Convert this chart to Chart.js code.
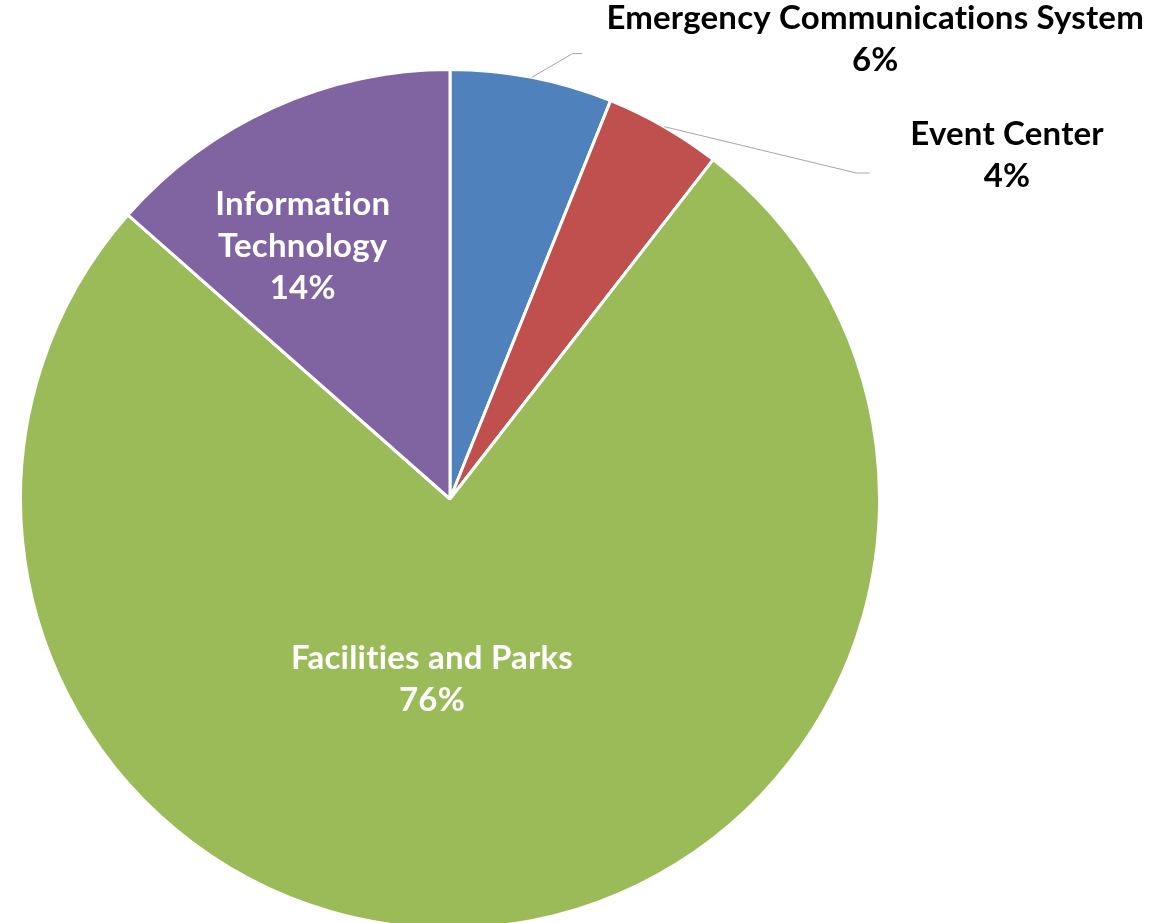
<!DOCTYPE html>
<html>
<head>
<meta charset="utf-8">
<script src="https://cdn.jsdelivr.net/npm/chart.js@4.4.1/dist/chart.umd.min.js"></script>
<style>
  html, body { margin: 0; padding: 0; background: #fff; overflow: hidden; }
  #wrap { width: 1153px; height: 923px; overflow: hidden; }
</style>
</head>
<body>
<div id="wrap"><canvas id="pieChart" width="1153" height="934"></canvas></div>
<script>
// Budget share by department
const categories = ['Emergency Communications System', 'Event Center', 'Facilities and Parks', 'Information Technology'];
const shareValues = [6.1, 4.4, 76.0, 13.5];
const shareLabels = ['6%', '4%', '76%', '14%'];
const sliceColors = ['#4F81BD', '#C0504D', '#9BBB59', '#8064A2'];

// label placement, relative to pie centre, in units of radius
const labelSpots = [
    { x: 0.99, y: -1.07, outside: true, color: '#000', elbow: [0.285, -1.037], end: [0.308, -1.037] },
    { x: 1.297, y: -0.80, outside: true, color: '#000', elbow: [0.946, -0.759], end: [0.977, -0.759] },
    { x: -0.042, y: 0.42, outside: false, color: '#fff' },
    { x: -0.343, y: -0.589, outside: false, color: '#fff' }
];

const FONT = 'bold 33px Lato, "Noto Sans", sans-serif';
const LINE_H = 42;

const sliceLabels = {
    id: 'sliceLabels',
    afterDatasetsDraw(chart) {
        const ctx = chart.ctx;
        const arcs = chart.getDatasetMeta(0).data;
        ctx.save();
        arcs.forEach((arc, i) => {
            const spot = labelSpots[i];
            const cx = arc.x, cy = arc.y, r = arc.outerRadius;
            const tx = cx + spot.x * r;
            const ty = cy + spot.y * r;

            if (spot.outside) {
                const mid = (arc.startAngle + arc.endAngle) / 2;
                ctx.beginPath();
                ctx.strokeStyle = '#a6a6a6';
                ctx.lineWidth = 1;
                ctx.moveTo(cx + Math.cos(mid) * r, cy + Math.sin(mid) * r);
                ctx.lineTo(cx + spot.elbow[0] * r, cy + spot.elbow[1] * r);
                ctx.lineTo(cx + spot.end[0] * r, cy + spot.end[1] * r);
                ctx.stroke();
            }

            let lines;
            if (i === 3) lines = ['Information', 'Technology', shareLabels[i]];
            else lines = [categories[i], shareLabels[i]];

            ctx.font = FONT;
            ctx.letterSpacing = '0.2px'; // keeps "ti" from turning into a ligature
            ctx.fillStyle = spot.color;
            ctx.textAlign = 'center';
            ctx.textBaseline = 'middle';
            const top = ty - (lines.length - 1) * LINE_H / 2;
            lines.forEach((ln, k) => ctx.fillText(ln, tx, top + k * LINE_H));
        });
        ctx.restore();
    }
};

new Chart(document.getElementById('pieChart'), {
    type: 'pie',
    data: {
        labels: categories,
        datasets: [{
            data: shareValues,
            backgroundColor: sliceColors,
            borderColor: '#ffffff',
            borderWidth: 3
        }]
    },
    options: {
        responsive: false,
        animation: false,
        layout: { padding: { left: 19, right: 272, top: 66, bottom: 2 } },
        plugins: {
            legend: { display: false },
            tooltip: { enabled: false }
        }
    },
    plugins: [sliceLabels]
});
</script>
</body>
</html>
